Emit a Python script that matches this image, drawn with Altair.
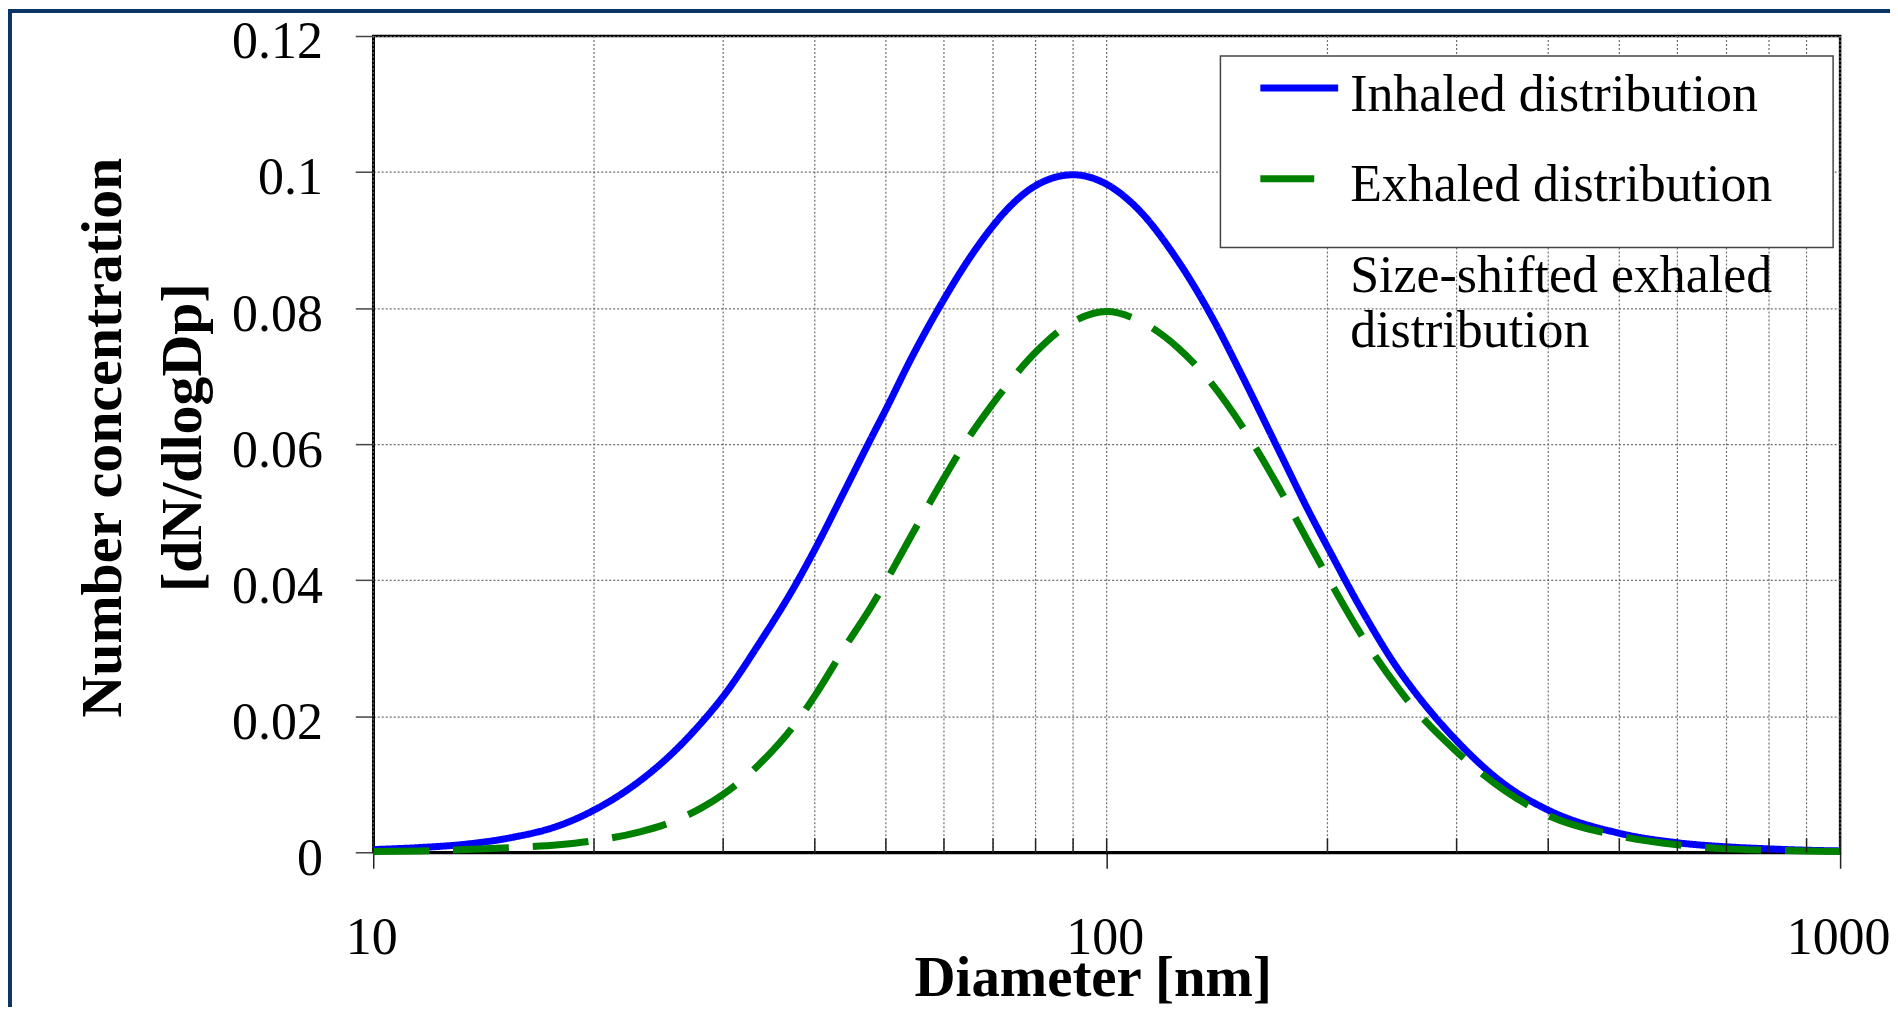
import altair as alt
import pandas as pd

# ---- data ----
diameters = [10, 11.6, 13.4, 15.5, 17.9, 20, 23.1, 25.6, 28.1, 30, 33.5, 38, 40, 44, 47.8, 50,
             54.2, 60, 64.7, 70, 73.3, 80, 90, 100, 110, 125, 138.8, 153.9, 170.9, 189.7, 200,
             224.4, 249, 259.6, 300, 350.6, 400, 500, 600, 700, 800, 900, 1000]
inhaled = [0.0004, 0.0007, 0.0012, 0.0022, 0.0039, 0.0062, 0.0105, 0.0146, 0.0192, 0.0229,
           0.0305, 0.0401, 0.0445, 0.0533, 0.0610, 0.0651, 0.0727, 0.0813, 0.0870, 0.0921,
           0.0946, 0.0980, 0.0996, 0.0982, 0.0947, 0.0870, 0.0789, 0.0695, 0.0595, 0.0496,
           0.0449, 0.0350, 0.0271, 0.0244, 0.0164, 0.0098, 0.0062, 0.0028, 0.0014, 0.0008,
           0.0005, 0.0003, 0.0002]
exhaled = [0.0001, 0.0002, 0.0004, 0.0007, 0.0011, 0.0017, 0.0030, 0.0045, 0.0066, 0.0085,
           0.0128, 0.0195, 0.0230, 0.0302, 0.0362, 0.0398, 0.0466, 0.0550, 0.0608, 0.0660,
           0.0688, 0.0735, 0.0780, 0.0795, 0.0783, 0.0742, 0.0690, 0.0622, 0.0540, 0.0450,
           0.0405, 0.0313, 0.0243, 0.0218, 0.0148, 0.0089, 0.0054, 0.0024, 0.0011, 0.0005,
           0.0003, 0.0002, 0.0001]
series_names = ["Inhaled distribution", "Exhaled distribution"]
series_colors = ["#0000ff", "#008000"]
third_label = ["Size-shifted exhaled", "distribution"]
grid_diameters = [10, 20, 30, 40, 50, 60, 70, 80, 90, 100, 200, 300, 400, 500, 600, 700, 800, 900, 1000]
x_label_values = [10, 100, 1000]
y_tick_values = [0, 0.02, 0.04, 0.06, 0.08, 0.1, 0.12]

W, H = 1470, 818
PAD = {"left": 366, "top": 27, "right": 50, "bottom": 155}
FONT = "Liberation Serif"
GRID = "#6e6e6e"
NAVY = "#0b3565"
LW = 7

df = pd.DataFrame({
    "d": diameters + diameters,
    "v": inhaled + exhaled,
    "series": [series_names[0]] * len(diameters) + [series_names[1]] * len(diameters),
})
grid_df = pd.DataFrame({"d": grid_diameters})
one = alt.Data(values=[{}])

xscale = alt.Scale(type="log", domain=[10, 1000], nice=False)
yscale = alt.Scale(domain=[0, 0.12], nice=False, zero=True)

x_axis = alt.Axis(
    values=x_label_values, format="d", labelFont=FONT, labelFontSize=52, labelColor="black",
    labelPadding=85, labelBaseline="alphabetic", labelFlush=False, labelOverlap=False,
    labelOffset=-2,
    ticks=True, tickSize=16, tickColor="#222222", tickWidth=1.5,
    grid=False, domain=True, domainColor="black", domainWidth=3,
    title="Diameter [nm]", titleFont=FONT, titleFontSize=57, titleFontWeight="bold",
    titleColor="black", titleX=721, titleY=144, titleBaseline="alphabetic", titleAlign="center",
)
y_axis = alt.Axis(
    values=y_tick_values, format=".2~f", labelFont=FONT, labelFontSize=52, labelColor="black",
    labelPadding=33, labelOffset=6, labelBaseline="middle", labelAlign="right",
    labelFlush=False, labelOverlap=False,
    ticks=True, tickSize=18, tickColor="#444444", tickWidth=1.5,
    grid=True, gridDash=[2, 2], gridColor=GRID, gridWidth=1.2,
    domain=True, domainColor="black", domainWidth=2.5,
    title=["Number concentration", "[dN/dlogDp]"], titleFont=FONT, titleFontSize=58,
    titleFontWeight="bold", titleColor="black", titleAngle=270, titleX=-253, titleY=402,
    titleAlign="center", titleBaseline="alphabetic", titleLineHeight=80,
)

X = alt.X("d:Q", scale=xscale, axis=x_axis)

vgrid = alt.Chart(grid_df).mark_rule(strokeDash=[2, 2], color=GRID, strokeWidth=1.2).encode(
    x=X, y=alt.value(0), y2=alt.value(H)
)

lines = alt.Chart(df).mark_line(interpolate="monotone", strokeWidth=LW, strokeCap="butt").encode(
    x=X,
    y=alt.Y("v:Q", scale=yscale, axis=y_axis),
    color=alt.Color("series:N", scale=alt.Scale(domain=series_names, range=series_colors), legend=None),
    strokeDash=alt.StrokeDash("series:N", scale=alt.Scale(domain=series_names, range=[[1, 0], [56, 24]]), legend=None),
)

minor_ticks = alt.Chart(grid_df).mark_rule(color="#222222", strokeWidth=1.5).encode(
    x=X, y=alt.value(H - 14), y2=alt.value(H)
)

legend_box = alt.Chart(one).mark_rect(fill="white", stroke="#444444", strokeWidth=1.5).encode(
    x=alt.value(849), x2=alt.value(1463), y=alt.value(20), y2=alt.value(212)
)
sample_in = alt.Chart(one).mark_rule(color=series_colors[0], strokeWidth=LW, strokeCap="butt").encode(
    x=alt.value(889), x2=alt.value(967), y=alt.value(52)
)
sample_ex = alt.Chart(one).mark_rule(color=series_colors[1], strokeWidth=LW, strokeCap="butt").encode(
    x=alt.value(889), x2=alt.value(943), y=alt.value(143)
)

def label(text, y, **kw):
    return alt.Chart(one).mark_text(align="left", baseline="alphabetic", font=FONT, fontSize=52,
                                    color="black", **kw).encode(
        x=alt.value(979), y=alt.value(y), text=alt.value(text))

lab1 = label(series_names[0], 75)
lab2 = label(series_names[1], 165)
lab3 = label(third_label, 257, lineHeight=55)

border_left = alt.Chart(one).mark_rule(color=NAVY, strokeWidth=4).encode(
    x=alt.value(-PAD["left"] + 2), y=alt.value(-PAD["top"]), y2=alt.value(H + PAD["bottom"])
)
border_top = alt.Chart(one).mark_rule(color=NAVY, strokeWidth=4).encode(
    x=alt.value(-PAD["left"]), x2=alt.value(W + PAD["right"]), y=alt.value(-PAD["top"] + 2)
)

chart = alt.layer(
    vgrid, lines, minor_ticks, legend_box, sample_in, sample_ex, lab1, lab2, lab3,
    border_left, border_top,
).properties(
    width=W, height=H,
    autosize=alt.AutoSizeParams(type="none"),
    padding=PAD,
    background="white",
).configure(font=FONT).configure_view(stroke="black", strokeWidth=2.5)

chart.save("out.html", embed_options={"renderer": "svg", "actions": False})
